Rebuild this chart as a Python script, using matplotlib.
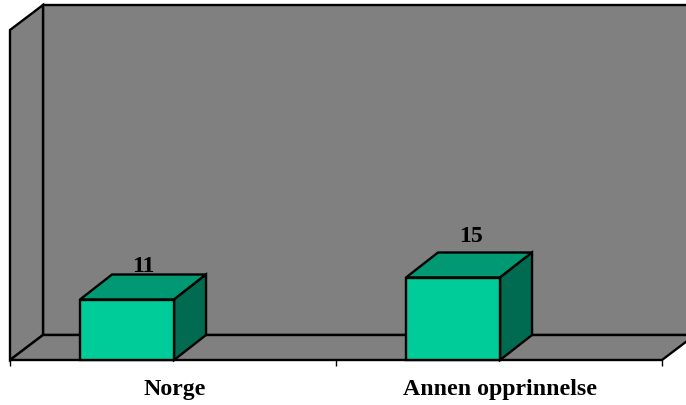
#!/usr/bin/env python3

import matplotlib
matplotlib.use('Agg')
import matplotlib.pyplot as plt
import numpy as np

# Data
categories = ["Norge", "Annen opprinnelse"]
values = [11, 15]
value_max = 60

W, H = 686, 405
LW = 1.7
FONT_SIZE = 17.2
GREY = '#808080'
FRONT = '#00CC99'
TOP = '#009973'
SIDE = '#006B50'

fig = plt.figure(figsize=(W / 100, H / 100), dpi=100, facecolor='white')
# Axes covers the front plane of the 3D box (pixels 10-662 across, 30-360 down)
ax = fig.add_axes([10 / W, 1 - 360 / H, 652 / W, 330 / H])
ax.set_xlim(-0.5, 1.5)
ax.set_ylim(0, value_max)
ax.patch.set_visible(False)
for side in ax.spines.values():
    side.set_visible(False)

# 3D depth, in data units
dx = 33 / 326
dy = 25 * value_max / 330
bar_dx = 32 / 326
x0, x1 = ax.get_xlim()

# Nudges for the value labels, the original does not place them evenly
label_shift_x = [0, 0.007]
label_shift_y = [-0.4, 1.05]


def face(xs, ys, color, z):
    ax.fill(xs, ys, facecolor=color, edgecolor='black', linewidth=LW,
            joinstyle='miter', clip_on=False, zorder=z)


# Walls and floor
face([x0 + dx, x1 + dx, x1 + dx, x0 + dx],
     [dy, dy, value_max + dy, value_max + dy], GREY, 1)
face([x0, x0 + dx, x0 + dx, x0],
     [0, dy, value_max + dy, value_max], GREY, 2)
face([x0, x1, x1 + dx, x0 + dx], [0, 0, dy, dy], GREY, 2)

# Bars: front through the axes, top and side from the same values
x = np.arange(len(categories))
bar_width = 94 / 326
bar_pos = x - 0.141
ax.bar(bar_pos, values, bar_width, color=FRONT, edgecolor='black',
       linewidth=LW, zorder=5, clip_on=False)
for i, (xp, v) in enumerate(zip(bar_pos, values)):
    left = xp - bar_width / 2
    right = xp + bar_width / 2
    face([left, right, right + bar_dx, left + bar_dx],
         [v, v, v + dy, v + dy], TOP, 4)
    face([right, right + bar_dx, right + bar_dx, right],
         [0, dy, v + dy, v], SIDE, 4)
    ax.text(xp + bar_dx / 2 + label_shift_x[i], v + dy + label_shift_y[i],
            str(v), ha='center', va='bottom', family='Liberation Serif',
            fontweight='bold', fontsize=FONT_SIZE, color='black', zorder=3.5)

# Axis: tick marks between categories, labels centred
ax.set_yticks([])
ax.set_xticks(x + 0.004)
ax.set_xticklabels(categories, family='Liberation Serif', fontweight='bold',
                   fontsize=FONT_SIZE)
ax.tick_params(axis='x', which='major', length=0, pad=14)
ax.set_xticks([-0.5, 0.5, 1.5], minor=True)
ax.tick_params(axis='x', which='minor', length=4.5, width=1, color='black')

fig.savefig('out.png', dpi=100)
